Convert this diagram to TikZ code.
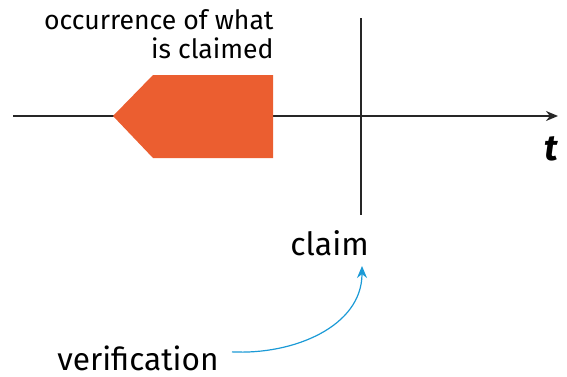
\documentclass[tikz,border=0pt]{standalone}
\usepackage{fontspec}
\setmainfont{Fira Sans}
\usetikzlibrary{arrows.meta}
\definecolor{claimorange}{HTML}{EB5E30}
\definecolor{verifblue}{HTML}{1B9AD6}
\begin{document}
\begin{tikzpicture}[x=0.5pt,y=-0.5pt]
  \useasboundingbox (0,0) rectangle (567,376);

  \tikzset{
    label/.style={inner sep=0pt},
    timeline/.style={line width=0.8pt,black!85}
  }

  % time axis and the moment of the claim
  \coordinate (start) at (13,116);
  \coordinate (end)   at (558,116);
  \coordinate (top)   at (361,18);
  \coordinate (bottom) at (361,215);
  \draw[timeline,-{Stealth[length=6pt,width=5pt]}] (start) -- (end);
  \draw[timeline] (top) -- (bottom);

  % what is claimed
  \fill[claimorange] (113,116) -- (153,75) -- (273,75) -- (273,158) -- (153,158) -- cycle;

  \node[label,anchor=base east,align=right,font=\fontsize{13.3}{14.5}\selectfont]
    (occ) at (274,58) {occurrence of what\\is claimed};
  \node[label,anchor=base east,font=\fontsize{18}{20}\selectfont\bfseries\itshape]
    (t) at (558,160) {t};
  \node[label,anchor=base west,font=\fontsize{16}{18}\selectfont]
    (claim) at (290,255) {claim};
  \node[label,anchor=base west,font=\fontsize{15.8}{18}\selectfont]
    (verif) at (57,370) {verification};

  \coordinate (tip) at (362,266);
  \draw[verifblue,line width=0.6pt,-{Stealth[length=6pt,width=5pt]}]
    ([xshift=6.5pt,yshift=3pt]verif.east) to[out=-3,in=-90] (tip);

\end{tikzpicture}
\end{document}
